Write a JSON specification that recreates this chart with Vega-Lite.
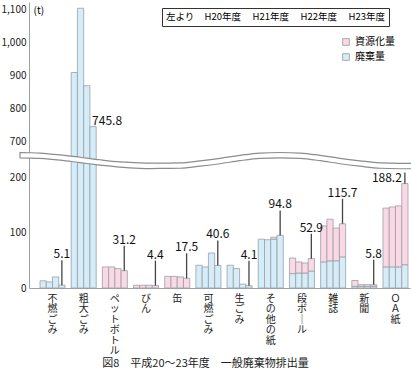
{
  "$schema": "https://vega.github.io/schema/vega-lite/v6.json",
  "width": 381,
  "height": 286,
  "autosize": {"type": "none"},
  "padding": {"left": 29, "top": 2, "right": 1, "bottom": 82},
  "background": "white",
  "config": {
    "view": {"stroke": null},
    "font": "Noto Sans CJK JP",
    "axis": {"grid": false, "ticks": false, "domainColor": "#a0a0a0", "labelColor": "#222222"}
  },
  "title": {"text": "図8　平成20～23年度　一般廃棄物排出量", "orient": "bottom", "anchor": "middle", "fontSize": 11, "fontWeight": "normal", "color": "#222222", "offset": 2, "dx": -14},
  "datasets": {
    "bars": [
      {"category": "不燃ごみ", "year": "H20年度", "type": "廃棄量", "value": 13},
      {"category": "不燃ごみ", "year": "H21年度", "type": "廃棄量", "value": 11},
      {"category": "不燃ごみ", "year": "H22年度", "type": "廃棄量", "value": 20},
      {"category": "不燃ごみ", "year": "H23年度", "type": "廃棄量", "value": 5.1},
      {"category": "粗大ごみ", "year": "H20年度", "type": "廃棄量", "value": 910},
      {"category": "粗大ごみ", "year": "H21年度", "type": "廃棄量", "value": 1105},
      {"category": "粗大ごみ", "year": "H22年度", "type": "廃棄量", "value": 870},
      {"category": "粗大ごみ", "year": "H23年度", "type": "廃棄量", "value": 745.8},
      {"category": "ペットボトル", "year": "H20年度", "type": "資源化量", "value": 38},
      {"category": "ペットボトル", "year": "H21年度", "type": "資源化量", "value": 38},
      {"category": "ペットボトル", "year": "H22年度", "type": "資源化量", "value": 35},
      {"category": "ペットボトル", "year": "H23年度", "type": "資源化量", "value": 31.2},
      {"category": "びん", "year": "H20年度", "type": "資源化量", "value": 5},
      {"category": "びん", "year": "H21年度", "type": "資源化量", "value": 5},
      {"category": "びん", "year": "H22年度", "type": "資源化量", "value": 5},
      {"category": "びん", "year": "H23年度", "type": "資源化量", "value": 4.4},
      {"category": "缶", "year": "H20年度", "type": "資源化量", "value": 21},
      {"category": "缶", "year": "H21年度", "type": "資源化量", "value": 21},
      {"category": "缶", "year": "H22年度", "type": "資源化量", "value": 20},
      {"category": "缶", "year": "H23年度", "type": "資源化量", "value": 17.5},
      {"category": "可燃ごみ", "year": "H20年度", "type": "廃棄量", "value": 41},
      {"category": "可燃ごみ", "year": "H21年度", "type": "廃棄量", "value": 38},
      {"category": "可燃ごみ", "year": "H22年度", "type": "廃棄量", "value": 63},
      {"category": "可燃ごみ", "year": "H23年度", "type": "廃棄量", "value": 40.6},
      {"category": "生ごみ", "year": "H20年度", "type": "廃棄量", "value": 41},
      {"category": "生ごみ", "year": "H21年度", "type": "廃棄量", "value": 35},
      {"category": "生ごみ", "year": "H22年度", "type": "廃棄量", "value": 7},
      {"category": "生ごみ", "year": "H23年度", "type": "廃棄量", "value": 4.1},
      {"category": "その他の紙", "year": "H20年度", "type": "廃棄量", "value": 88},
      {"category": "その他の紙", "year": "H21年度", "type": "廃棄量", "value": 87},
      {"category": "その他の紙", "year": "H22年度", "type": "廃棄量", "value": 88},
      {"category": "その他の紙", "year": "H22年度", "type": "資源化量", "value": 3.5},
      {"category": "その他の紙", "year": "H23年度", "type": "廃棄量", "value": 94.8},
      {"category": "段ボール", "year": "H20年度", "type": "廃棄量", "value": 26},
      {"category": "段ボール", "year": "H21年度", "type": "廃棄量", "value": 27},
      {"category": "段ボール", "year": "H22年度", "type": "廃棄量", "value": 27},
      {"category": "段ボール", "year": "H23年度", "type": "廃棄量", "value": 30.5},
      {"category": "段ボール", "year": "H20年度", "type": "資源化量", "value": 28},
      {"category": "段ボール", "year": "H21年度", "type": "資源化量", "value": 20},
      {"category": "段ボール", "year": "H22年度", "type": "資源化量", "value": 18},
      {"category": "段ボール", "year": "H23年度", "type": "資源化量", "value": 22.4},
      {"category": "雑誌", "year": "H20年度", "type": "廃棄量", "value": 47},
      {"category": "雑誌", "year": "H21年度", "type": "廃棄量", "value": 49},
      {"category": "雑誌", "year": "H22年度", "type": "廃棄量", "value": 49},
      {"category": "雑誌", "year": "H23年度", "type": "廃棄量", "value": 56},
      {"category": "雑誌", "year": "H20年度", "type": "資源化量", "value": 65},
      {"category": "雑誌", "year": "H21年度", "type": "資源化量", "value": 75},
      {"category": "雑誌", "year": "H22年度", "type": "資源化量", "value": 59},
      {"category": "雑誌", "year": "H23年度", "type": "資源化量", "value": 59.7},
      {"category": "新聞", "year": "H20年度", "type": "廃棄量", "value": 3},
      {"category": "新聞", "year": "H21年度", "type": "廃棄量", "value": 3},
      {"category": "新聞", "year": "H22年度", "type": "廃棄量", "value": 3},
      {"category": "新聞", "year": "H23年度", "type": "廃棄量", "value": 3},
      {"category": "新聞", "year": "H20年度", "type": "資源化量", "value": 10.5},
      {"category": "新聞", "year": "H21年度", "type": "資源化量", "value": 3},
      {"category": "新聞", "year": "H22年度", "type": "資源化量", "value": 3},
      {"category": "新聞", "year": "H23年度", "type": "資源化量", "value": 2.8},
      {"category": "ＯＡ紙", "year": "H20年度", "type": "廃棄量", "value": 38},
      {"category": "ＯＡ紙", "year": "H21年度", "type": "廃棄量", "value": 38},
      {"category": "ＯＡ紙", "year": "H22年度", "type": "廃棄量", "value": 38},
      {"category": "ＯＡ紙", "year": "H23年度", "type": "廃棄量", "value": 42},
      {"category": "ＯＡ紙", "year": "H20年度", "type": "資源化量", "value": 106},
      {"category": "ＯＡ紙", "year": "H21年度", "type": "資源化量", "value": 108},
      {"category": "ＯＡ紙", "year": "H22年度", "type": "資源化量", "value": 110},
      {"category": "ＯＡ紙", "year": "H23年度", "type": "資源化量", "value": 146.2}
    ],
    "wave": [
      {"p": -2.36, "upper": 547, "lower": 471},
      {"p": 2.89, "upper": 539, "lower": 463},
      {"p": 8.14, "upper": 514, "lower": 439},
      {"p": 13.39, "upper": 480, "lower": 404},
      {"p": 18.64, "upper": 444, "lower": 369},
      {"p": 23.88, "upper": 414, "lower": 339},
      {"p": 29.13, "upper": 399, "lower": 323},
      {"p": 31.76, "upper": 396, "lower": 320},
      {"p": 34.38, "upper": 397, "lower": 321},
      {"p": 39.63, "upper": 400, "lower": 324},
      {"p": 44.88, "upper": 429, "lower": 353},
      {"p": 50.13, "upper": 464, "lower": 388},
      {"p": 55.38, "upper": 507, "lower": 431},
      {"p": 60.63, "upper": 539, "lower": 463},
      {"p": 65.88, "upper": 547, "lower": 471},
      {"p": 71.13, "upper": 539, "lower": 463},
      {"p": 76.38, "upper": 507, "lower": 431},
      {"p": 81.63, "upper": 464, "lower": 388},
      {"p": 86.88, "upper": 429, "lower": 353},
      {"p": 92.13, "upper": 400, "lower": 324},
      {"p": 97.38, "upper": 393, "lower": 317},
      {"p": 101.31, "upper": 393, "lower": 317}
    ]
  },
  "layer": [
    {
      "data": {"name": "bars"},
      "layer": [
        {
          "mark": {"type": "bar", "stroke": "#9aa0a6", "strokeWidth": 0.8},
          "encoding": {
            "x": {
              "field": "category", "type": "nominal", "title": null,
              "scale": {"domain": ["不燃ごみ", "粗大ごみ", "ペットボトル", "びん", "缶", "可燃ごみ", "生ごみ", "その他の紙", "段ボール", "雑誌", "新聞", "ＯＡ紙"], "paddingInner": 0.198, "paddingOuter": 0.2085, "align": 0.846},
              "axis": {"labelExpr": "split(replace(datum.label, 'ー', '｜'), '')", "labelAngle": 0, "labelBaseline": "top", "labelAlign": "center", "labelPadding": 5, "labelFontSize": 10, "labelLineHeight": 10.5, "labelOverlap": false, "title": null}
            },
            "xOffset": {"field": "year", "type": "nominal", "scale": {"domain": ["H20年度", "H21年度", "H22年度", "H23年度"], "paddingInner": 0, "paddingOuter": 0}},
            "y": {
              "field": "value", "type": "quantitative", "stack": "zero", "title": "(t)",
              "scale": {"domain": [0, 200, 700, 1124], "range": [286, 175, 139.7, 0], "nice": false, "zero": false},
              "axis": {"values": [0, 100, 200, 700, 800, 900, 1000, 1100], "format": ",d", "labelFontSize": 10, "labelPadding": 3, "title": "(t)", "titleAngle": 0, "titleX": 4, "titleY": 8, "titleAlign": "left", "titleBaseline": "middle", "titleFontWeight": "normal", "titleFontSize": 10}
            },
            "color": {
              "field": "type", "type": "nominal",
              "scale": {"domain": ["資源化量", "廃棄量"], "range": ["#fad8e4", "#d4edf9"]},
              "legend": {"title": null, "orient": "none", "legendX": 312, "legendY": 35, "symbolType": "square", "symbolSize": 45, "symbolStrokeColor": "#999999", "symbolStrokeWidth": 0.8, "labelFontSize": 10, "rowPadding": 5, "labelOffset": 4, "padding": 0}
            },
            "opacity": {
              "field": "year", "type": "ordinal",
              "scale": {"domain": ["H20年度", "H21年度", "H22年度", "H23年度"], "range": [1, 1]},
              "legend": {"title": "左より", "orient": "none", "legendX": 133, "legendY": 6, "direction": "horizontal", "titleOrient": "left", "symbolSize": 0, "symbolStrokeWidth": 0, "symbolOpacity": 0, "labelOffset": 0, "columnPadding": 2, "strokeColor": "#333333", "padding": 4, "labelFontSize": 9.5, "titleFontSize": 9.5, "titleFontWeight": "normal", "titlePadding": 0}
            },
            "order": {"field": "type", "sort": "ascending"}
          }
        },
        {
          "transform": [
            {"filter": "datum.year === 'H23年度'"},
            {"aggregate": [{"op": "sum", "field": "value", "as": "total"}], "groupby": ["category", "year"]}
          ],
          "layer": [
            {
              "transform": [{"filter": "datum.category !== '粗大ごみ' && datum.category !== 'ＯＡ紙'"}],
              "layer": [
                {
                  "mark": {"type": "rule", "color": "#444444", "strokeWidth": 1.3, "y2Offset": -25},
                  "encoding": {
                    "x": {"field": "category", "type": "nominal", "title": null},
                    "xOffset": {"field": "year", "type": "nominal"},
                    "y": {"field": "total", "type": "quantitative", "title": "(t)"},
                    "y2": {"field": "total"}
                  }
                },
                {
                  "mark": {"type": "text", "fontSize": 12, "baseline": "alphabetic", "align": "center", "dy": -27, "color": "#111111"},
                  "encoding": {
                    "x": {"field": "category", "type": "nominal", "title": null},
                    "xOffset": {"field": "year", "type": "nominal"},
                    "y": {"field": "total", "type": "quantitative", "title": "(t)"},
                    "text": {"field": "total", "type": "quantitative", "format": ".1f"}
                  }
                }
              ]
            },
            {
              "transform": [{"filter": "datum.category === 'ＯＡ紙'"}],
              "layer": [
                {
                  "mark": {"type": "rule", "color": "#444444", "strokeWidth": 1.3, "y2Offset": -11},
                  "encoding": {
                    "x": {"field": "category", "type": "nominal", "title": null},
                    "xOffset": {"field": "year", "type": "nominal"},
                    "y": {"field": "total", "type": "quantitative", "title": "(t)"},
                    "y2": {"field": "total"}
                  }
                },
                {
                  "mark": {"type": "text", "fontSize": 12, "baseline": "alphabetic", "align": "right", "dx": -3, "dy": -2, "color": "#111111"},
                  "encoding": {
                    "x": {"field": "category", "type": "nominal", "title": null},
                    "xOffset": {"field": "year", "type": "nominal"},
                    "y": {"field": "total", "type": "quantitative", "title": "(t)"},
                    "text": {"field": "total", "type": "quantitative", "format": ".1f"}
                  }
                }
              ]
            },
            {
              "transform": [{"filter": "datum.category === '粗大ごみ'"}],
              "mark": {"type": "text", "fontSize": 12, "baseline": "alphabetic", "align": "left", "dx": -1, "dy": -2, "color": "#111111"},
              "encoding": {
                "x": {"field": "category", "type": "nominal", "title": null},
                "xOffset": {"field": "year", "type": "nominal"},
                "y": {"field": "total", "type": "quantitative", "title": "(t)"},
                "text": {"field": "total", "type": "quantitative", "format": ".1f"}
              }
            }
          ]
        }
      ]
    },
    {
      "data": {"name": "wave"},
      "mark": {"type": "area", "fill": "white", "stroke": "#8c8c8c", "strokeWidth": 1.2, "interpolate": "monotone"},
      "encoding": {
        "x": {"field": "p", "type": "quantitative", "scale": {"domain": [0, 100], "nice": false, "zero": false}, "axis": null},
        "y": {"field": "upper", "type": "quantitative", "title": "(t)", "scale": {"domain": [0, 200, 700, 1124], "range": [286, 175, 139.7, 0], "nice": false, "zero": false}},
        "y2": {"field": "lower"}
      }
    }
  ],
  "resolve": {"scale": {"x": "independent"}}
}
